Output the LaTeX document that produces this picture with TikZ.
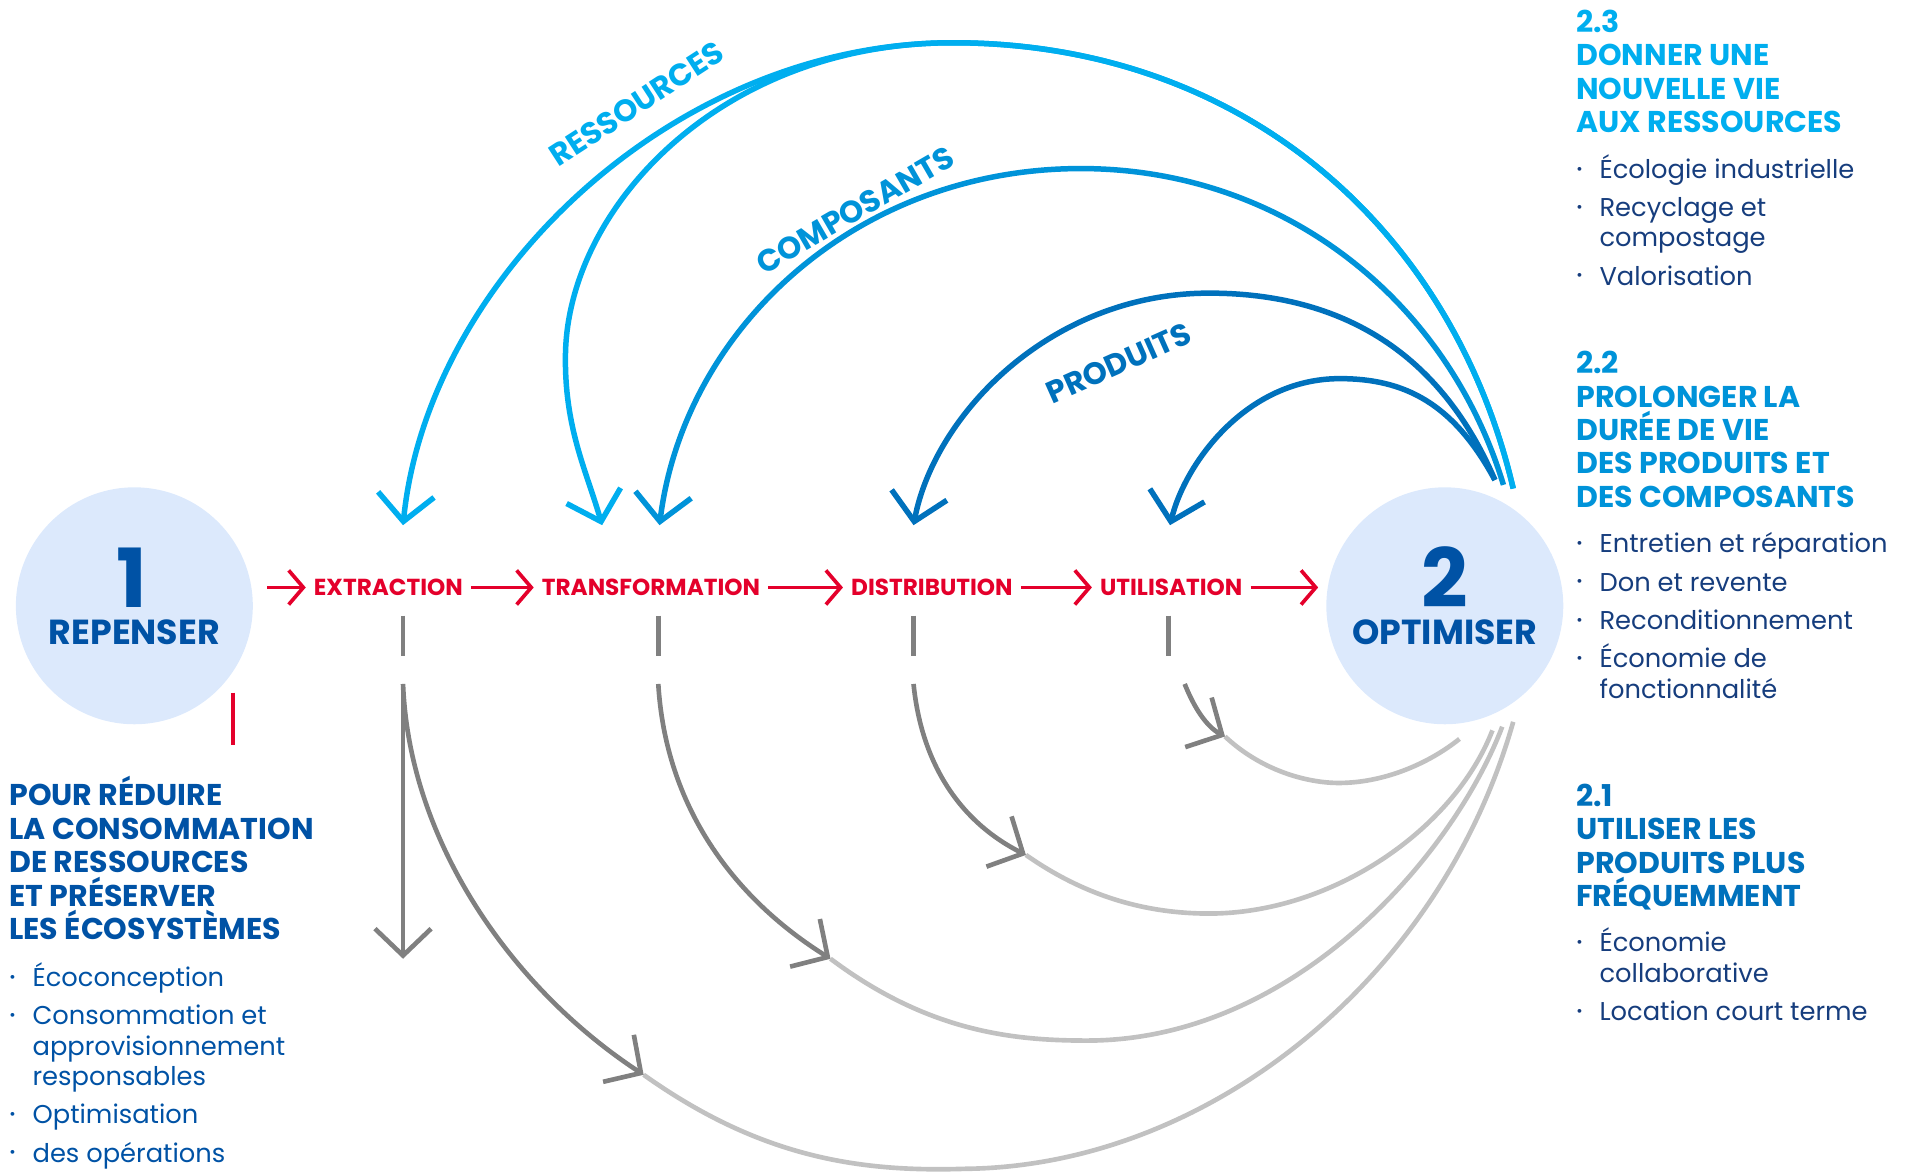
\documentclass[tikz,border=0pt]{standalone}
\usepackage{fontspec}
\setmainfont{Poppins}
\usetikzlibrary{arrows.meta, positioning}

\definecolor{cred}{HTML}{E4002B}
\definecolor{cpale}{HTML}{DCE9FC}
\definecolor{cnavy}{HTML}{0052A5}
\definecolor{cink}{HTML}{163D7D}
\definecolor{cres}{HTML}{00AEEF}
\definecolor{ccomp}{HTML}{0093D9}
\definecolor{cprod}{HTML}{0071BC}
\definecolor{cgray}{HTML}{808080}
\definecolor{clight}{HTML}{C1C1C1}

\newcommand{\itm}[1]{\makebox[0.19cm][l]{\raisebox{0.3ex}{\fontsize{3.6}{4}\selectfont\textbullet}}#1}
\newcommand{\cont}{\hspace*{0.19cm}}

\tikzset{
  phase/.style={circle, fill=cpale, minimum size=1.94cm, inner sep=0pt},
  phasenum/.style={font=\fontsize{19}{20}\selectfont\bfseries, text=cnavy, anchor=base, inner sep=0pt},
  phasename/.style={font=\fontsize{8.1}{9}\selectfont\bfseries, text=cnavy, anchor=base, inner sep=0pt},
  stage/.style={font=\fontsize{5.4}{6}\selectfont\bfseries, text=cred, inner xsep=0.06cm, inner ysep=0pt, text height=3.76pt, text depth=0pt},
  flow/.style={cred, line width=0.03cm, -{Straight Barb[length=0.12cm, width=0.28cm]}},
  loop/.style={line width=0.045cm, -{Straight Barb[length=0.22cm, width=0.46cm]}},
  loss/.style={cgray, line width=0.038cm},
  lossarrow/.style={loss, -{Straight Barb[length=0.22cm, width=0.46cm]}},
  lossway/.style={clight, line width=0.038cm},
  arclabel/.style={font=\fontsize{7.2}{8}\selectfont\bfseries, inner sep=0pt},
  % multi-line nodes sit on the baseline of their last line
  head/.style={font=\fontsize{7.0}{7.8}\selectfont\bfseries, align=left, anchor=base west, inner sep=0pt},
  items/.style={font=\fontsize{6.0}{7.1}\selectfont, text=cink, align=left, anchor=base west, inner sep=0pt},
}

\begin{document}
\begin{tikzpicture}[x=1cm, y=-1cm]
  \useasboundingbox (0,0) rectangle (15.68,9.60);

  %% the two phases
  \node[phase] (rep) at (1.10,4.96) {};
  \node[phasenum] (rep-num) at (1.08,4.975) {1};
  \node[phasename] (rep-name) at (1.10,5.28) {REPENSER};
  \node[phase] (opt) at (11.83,4.96) {};
  \node[phasenum] (opt-num) at (11.83,4.975) {2};
  \node[phasename] (opt-name) at (11.83,5.28) {OPTIMISER};

  %% value chain
  \node[stage] (ext) at (3.18,4.81) {EXTRACTION};
  \node[stage] (tra) at (5.33,4.81) {TRANSFORMATION};
  \node[stage] (dis) at (7.63,4.81) {DISTRIBUTION};
  \node[stage] (uti) at (9.59,4.81) {UTILISATION};

  \draw[flow, shorten <=0.11cm] (rep.east |- ext) -- (ext);
  \foreach \a/\b in {ext/tra, tra/dis, dis/uti}{
    \draw[flow] (\a) -- (\b);
  }
  \draw[flow, shorten >=0.06cm] (uti) -- (uti -| opt.west);

  \draw[cred, line width=0.03cm] (1.91,5.67) -- (1.91,6.10);

  %% loops back from the second phase
  \coordinate (hub-res) at (12.39,4.00);
  \coordinate (hub-comp) at (12.31,3.97);
  \coordinate (hub-prod) at (12.24,3.93);
  \coordinate (ext-top) at (3.30,4.30);
  \coordinate (tra-top) at (4.93,4.30);
  \coordinate (tra-top2) at (5.40,4.30);
  \coordinate (dis-top) at (7.48,4.30);
  \coordinate (uti-top) at (9.58,4.30);

  \draw[loop, cres] (hub-res) .. controls (11.9,1.9) and (10.2,0.35) .. (7.80,0.35)
    .. controls (5.5,0.35) and (3.5,2.3) .. (ext-top);
  \draw[loop, cres] (hub-res) .. controls (11.9,1.9) and (10.2,0.35) .. (7.80,0.35)
    .. controls (5.9,0.35) and (4.65,1.7) .. (4.63,2.9)
    .. controls (4.62,3.5) and (4.80,3.85) .. (tra-top);
  \draw[loop, ccomp] (hub-comp) .. controls (11.85,2.45) and (10.5,1.38) .. (8.85,1.38)
    .. controls (7.0,1.38) and (5.6,2.7) .. (tra-top2);
  \draw[loop, cprod] (hub-prod) .. controls (11.8,2.9) and (11.0,2.40) .. (9.90,2.40)
    .. controls (8.6,2.40) and (7.65,3.4) .. (dis-top);
  \draw[loop, cprod] (hub-prod) .. controls (11.9,3.3) and (11.5,3.10) .. (10.97,3.10)
    .. controls (10.2,3.10) and (9.70,3.8) .. (uti-top);

  \node[arclabel, text=cres, rotate=33] (lab-res) at (5.21,0.85) {RESSOURCES};
  \node[arclabel, text=ccomp, rotate=30] (lab-comp) at (7.00,1.72) {COMPOSANTS};
  \node[arclabel, text=cprod, rotate=24] (lab-prod) at (9.16,2.97) {PRODUITS};

  %% end-of-life paths
  \foreach \x in {3.30, 5.39, 7.48, 9.57}{
    \draw[loss] (\x,5.04) -- (\x,5.37);
  }
  \coordinate (ext-s) at (3.30,5.60);
  \coordinate (tra-s) at (5.39,5.60);
  \coordinate (dis-s) at (7.48,5.60);
  \coordinate (uti-s) at (9.70,5.60);
  \coordinate (ext-k) at (5.27,8.80);
  \coordinate (tra-k) at (6.80,7.85);
  \coordinate (dis-k) at (8.40,7.00);
  \coordinate (uti-k) at (10.03,6.03);
  \coordinate (ext-drop) at (3.30,7.85);
  \coordinate (hub-ext) at (12.39,5.91);
  \coordinate (hub-tra) at (12.30,5.95);
  \coordinate (hub-dis) at (12.22,5.98);
  \coordinate (hub-uti) at (11.95,6.05);

  \draw[lossway] (ext-k) .. controls (6.2,9.46) and (7.0,9.6) .. (7.90,9.57)
    .. controls (9.9,9.55) and (11.8,8.0) .. (hub-ext);
  \draw[lossway] (tra-k) .. controls (7.6,8.45) and (8.3,8.52) .. (8.90,8.52)
    .. controls (10.6,8.52) and (11.9,7.0) .. (hub-tra);
  \draw[lossway] (dis-k) .. controls (8.9,7.35) and (9.4,7.48) .. (9.90,7.48)
    .. controls (10.9,7.48) and (11.9,6.8) .. (hub-dis);
  \draw[lossway] (uti-k) .. controls (10.35,6.33) and (10.75,6.42) .. (11.00,6.41)
    .. controls (11.35,6.40) and (11.7,6.25) .. (hub-uti);

  \draw[lossarrow] (ext-s) -- (ext-drop);
  \draw[lossarrow] (ext-s) .. controls (3.35,6.9) and (4.2,8.1) .. (ext-k);
  \draw[lossarrow] (tra-s) .. controls (5.45,6.6) and (6.0,7.35) .. (tra-k);
  \draw[lossarrow] (dis-s) .. controls (7.55,6.3) and (7.9,6.75) .. (dis-k);
  \draw[lossarrow] (uti-s) .. controls (9.78,5.80) and (9.88,5.95) .. (uti-k);

  %% strategies
  \node[head, text=cres] (h23) at (12.90,1.085) {2.3\\DONNER UNE\\NOUVELLE VIE\\AUX RESSOURCES};
  \node[items] (l23) at (12.90,2.335) {\itm{Écologie industrielle}\\[1.8pt]\itm{Recyclage et}\\\cont compostage\\[1.8pt]\itm{Valorisation}};
  \node[head, text=ccomp] (h22) at (12.90,4.155) {2.2\\PROLONGER LA\\DURÉE DE VIE\\DES PRODUITS ET\\DES COMPOSANTS};
  \node[items] (l22) at (12.90,5.715) {\itm{Entretien et réparation}\\[1.8pt]\itm{Don et revente}\\[1.8pt]\itm{Reconditionnement}\\[1.8pt]\itm{Économie de}\\\cont fonctionnalité};
  \node[head, text=cprod] (h21) at (12.90,7.425) {2.1\\UTILISER LES\\PRODUITS PLUS\\FRÉQUEMMENT};
  \node[items] (l21) at (12.90,8.355) {\itm{Économie}\\\cont collaborative\\[1.8pt]\itm{Location court terme}};

  \node[head, text=cnavy] (goal) at (0.07,7.695) {POUR RÉDUIRE\\LA CONSOMMATION\\DE RESSOURCES\\ET PRÉSERVER\\LES ÉCOSYSTÈMES};
  \node[items, text=cnavy] (acts) at (0.07,9.515) {\itm{Écoconception}\\[1.8pt]\itm{Consommation et}\\\cont approvisionnement\\\cont responsables\\[1.8pt]\itm{Optimisation}\\[1.8pt]\itm{des opérations}};

\end{tikzpicture}
\end{document}
